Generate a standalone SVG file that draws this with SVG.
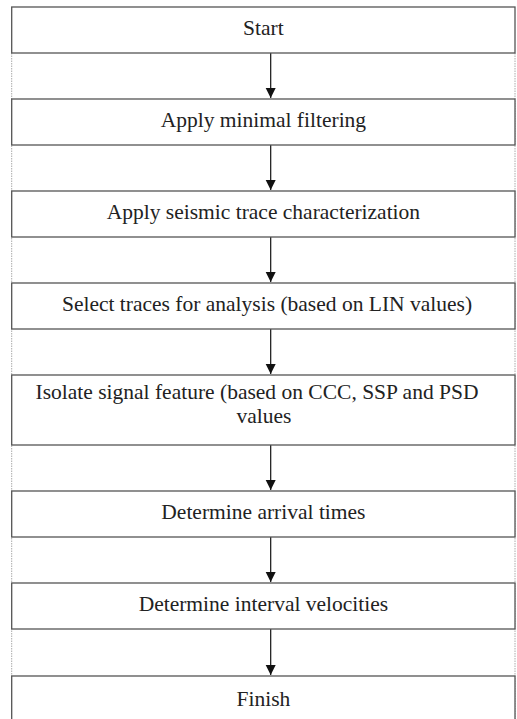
<svg xmlns="http://www.w3.org/2000/svg" width="517" height="719" viewBox="0 0 517 719">
<style>
.box{fill:#fff;stroke:#555;stroke-width:1.3}
.t{font-family:"Liberation Serif","Times New Roman",serif;font-size:21.5px;fill:#222;text-anchor:middle}
.dot{stroke:#aaa;stroke-width:1;stroke-dasharray:1.5 1}
.ar{stroke:#111;stroke-width:1.2;fill:none;marker-end:url(#ah)}
</style>
<defs>
<marker id="ah" markerUnits="userSpaceOnUse" markerWidth="11" markerHeight="11" refX="10" refY="5" orient="auto">
<path d="M0,0 L10,5 L0,10 Z" fill="#111"/>
</marker>
</defs>
<rect width="517" height="719" fill="#fff"/>
<g id="sides">
<line class="dot" x1="11.7" y1="53" x2="11.7" y2="719"/>
<line class="dot" x1="515" y1="53" x2="515" y2="719"/>
</g>
<g id="connectors">
<line class="ar" x1="270.7" y1="53" x2="270.7" y2="98"/>
<line class="ar" x1="270.7" y1="145" x2="270.7" y2="190"/>
<line class="ar" x1="270.7" y1="237" x2="270.7" y2="282"/>
<line class="ar" x1="270.7" y1="329" x2="270.7" y2="374"/>
<line class="ar" x1="270.7" y1="445" x2="270.7" y2="490"/>
<line class="ar" x1="270.7" y1="537" x2="270.7" y2="582"/>
<line class="ar" x1="270.7" y1="629" x2="270.7" y2="675"/>
</g>
<g id="n1"><rect class="box" x="11.7" y="7" width="503.3" height="46"/><text class="t" x="263.4" y="35">Start</text></g>
<g id="n2"><rect class="box" x="11.7" y="99" width="503.3" height="46"/><text class="t" x="263.4" y="127">Apply minimal filtering</text></g>
<g id="n3"><rect class="box" x="11.7" y="191" width="503.3" height="46"/><text class="t" x="263.4" y="219">Apply seismic trace characterization</text></g>
<g id="n4"><rect class="box" x="11.7" y="283" width="503.3" height="46"/><text class="t" x="267" y="311">Select traces for analysis (based on LIN values)</text></g>
<g id="n5"><rect class="box" x="11.7" y="375" width="503.3" height="70"/><text class="t" x="257" y="399">Isolate signal feature (based on CCC, SSP and PSD</text><text class="t" x="264" y="423">values</text></g>
<g id="n6"><rect class="box" x="11.7" y="491" width="503.3" height="46"/><text class="t" x="263.4" y="519">Determine arrival times</text></g>
<g id="n7"><rect class="box" x="11.7" y="583" width="503.3" height="46"/><text class="t" x="263.4" y="611">Determine interval velocities</text></g>
<g id="n8"><rect class="box" x="11.7" y="676" width="503.3" height="50"/><text class="t" x="263.4" y="706">Finish</text></g>
</svg>
